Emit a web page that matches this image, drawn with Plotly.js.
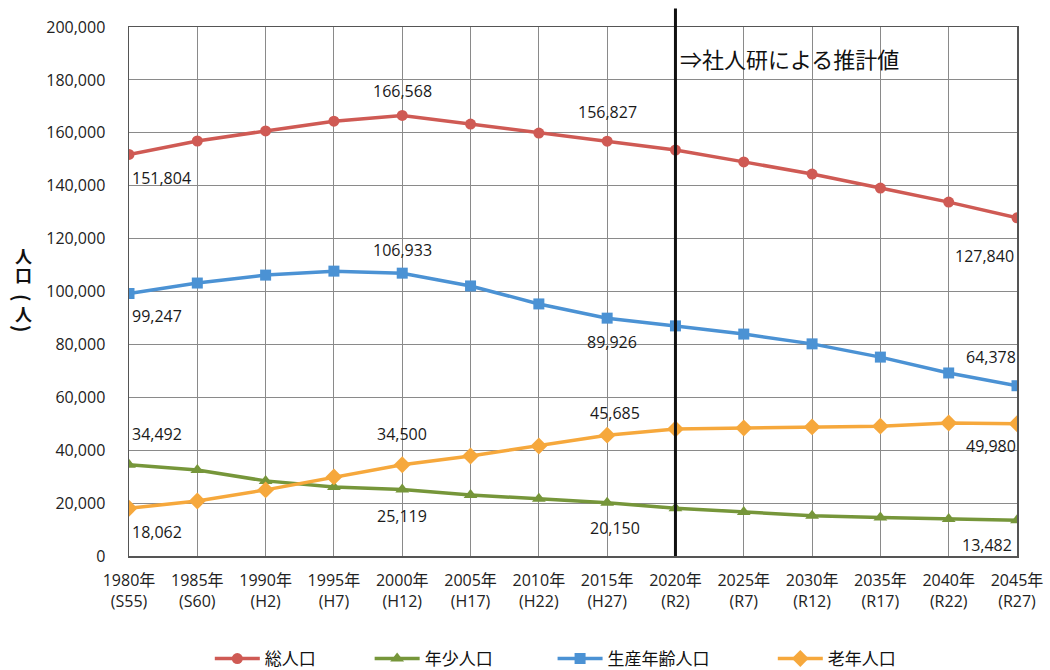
<!DOCTYPE html>
<html>
<head>
<meta charset="utf-8">
<script src="https://cdn.plot.ly/plotly-3.0.1.min.js"></script>
<style>html,body{margin:0;padding:0;background:#fff;}#chart{width:1050px;height:670px;}</style>
</head>
<body>
<div id="chart"></div>
<script>
const years = [1980,1985,1990,1995,2000,2005,2010,2015,2020,2025,2030,2035,2040,2045];
const tickLabels = ["1980年<br>(S55)","1985年<br>(S60)","1990年<br>(H2)","1995年<br>(H7)","2000年<br>(H12)","2005年<br>(H17)","2010年<br>(H22)","2015年<br>(H27)","2020年<br>(R2)","2025年<br>(R7)","2030年<br>(R12)","2035年<br>(R17)","2040年<br>(R22)","2045年<br>(R27)"];
const seriesNames = ["総人口","年少人口","生産年齢人口","老年人口"];
const total      = [151804,156900,160700,164400,166568,163300,159900,156827,153500,149000,144400,139100,133800,127840];
const young      = [34492,32500,28400,26100,25119,23100,21600,20150,18100,16600,15200,14600,14000,13482];
const working    = [99247,103200,106200,107700,106933,102100,95300,89926,87000,83900,80200,75200,69200,64378];
const elderly    = [18062,20800,25000,29900,34500,37800,41600,45685,48000,48400,48800,49100,50300,49980];
const yTickVals  = [0,20000,40000,60000,80000,100000,120000,140000,160000,180000,200000];
const labelIdx   = [0,4,7,13];
const forecastStartYear = years[8];
const yTitleChars = ["人","口","(","人",")"];

const colors = ["#CF5A54","#76963A","#4B92D4","#F6A83C"];
const symbols = ["circle","triangle-up","square","diamond"];
const data = [total, young, working, elderly];
const legendIds = ["legend","legend2","legend3","legend4"];
const legendX = [0.091, 0.271, 0.477, 0.725];

// label placement: [xanchor, yanchor, yshift, xshift]
const place = [
  [["left","top",-11,1],["center","bottom",11,0],["center","bottom",16,0],["right","top",-25,-1]],
  [["left","bottom",18,1],["center","top",-13,0],["center","top",-12,8],["right","top",-12,-3]],
  [["left","top",-10,1],["center","bottom",10,0],["center","top",-11,5],["right","bottom",16,1]],
  [["left","top",-11,1],["center","bottom",18,0],["center","bottom",9,8],["right","top",-9,1]]
];

const traces = data.map((vals,i)=>({
  x: years, y: vals, name: seriesNames[i], type:"scatter", mode:"lines+markers",
  legend: legendIds[i],
  line:{color:colors[i], width:3.5},
  marker:{color:colors[i], size: i===1?12:(i===3?13:11), symbol:symbols[i]},
  hoverinfo:"skip"
}));

const annotations = [];
data.forEach((vals,i)=>{
  labelIdx.forEach((k,j)=>{
    const p = place[i][j];
    annotations.push({x:years[k], y:vals[k], xref:"x", yref:"y", text:vals[k].toLocaleString("en-US"),
      showarrow:false, xanchor:p[0], yanchor:p[1], yshift:p[2], xshift:p[3],
      font:{family:"Open Sans, Noto Sans, sans-serif", size:16, color:"#1a1a1a"}});
  });
});
annotations.push({x:forecastStartYear, y:(556-58)/529, xref:"x", yref:"paper", yanchor:"middle", xanchor:"left",
  xshift:3, text:"⇒社人研による推計値", showarrow:false,
  font:{family:"Noto Sans CJK JP, sans-serif", size:22, color:"#111"}});
// y title: stacked characters, parentheses rotated as in vertical writing
const yTitlePos = [255, 274, 298, 313, 329];
yTitleChars.forEach((c,i)=>{
  const paren = (c==="("||c===")");
  annotations.push({x:0, y:(556 - yTitlePos[i])/529, xref:"paper", yref:"paper", xanchor:"center", yanchor:"middle",
    text:"<b>"+c+"</b>", showarrow:false, xshift:-106, textangle:paren?90:0, borderpad:0,
    font:{family:"Noto Sans CJK JP, sans-serif", size:paren?20:17, color:"#111"}});
});

const legendBase = {orientation:"h", xanchor:"left", yref:"container", y:(670-659)/670, yanchor:"middle",
  font:{family:"Noto Sans CJK JP, sans-serif", size:17, color:"#111"}, itemwidth:45, bgcolor:"rgba(0,0,0,0)"};

const layout = {
  width:1050, height:670,
  margin:{l:129, r:33, t:27, b:114},
  paper_bgcolor:"#fff", plot_bgcolor:"#fff",
  showlegend:true,
  xaxis:{range:[1980,2045], tickvals:years, ticktext:tickLabels, showgrid:true, gridcolor:"#8a8a8a", gridwidth:1,
    zeroline:false, showline:true, linecolor:"#555", linewidth:1.5, mirror:true, ticks:"",
    ticklabelstandoff:9, automargin:false,
    tickfont:{family:"Open Sans, Noto Sans CJK JP, sans-serif", size:16, color:"#222"}, fixedrange:true},
  yaxis:{range:[0,200000], tickvals:yTickVals, tickformat:",", showgrid:true, gridcolor:"#8a8a8a", gridwidth:1,
    zeroline:false, showline:true, linecolor:"#555", linewidth:1.5, mirror:true, ticks:"",
    ticklabelstandoff:19, automargin:false,
    tickfont:{family:"Open Sans, Noto Sans, sans-serif", size:16, color:"#222"}, fixedrange:true},
  shapes:[{type:"line", xref:"x", yref:"paper", x0:forecastStartYear, x1:forecastStartYear, y0:0, y1:1.035,
    line:{color:"#111", width:3}}],
  annotations: annotations
};
legendIds.forEach((id,i)=>{ layout[id] = Object.assign({}, legendBase, {x:legendX[i]}); });

Plotly.newPlot("chart", traces, layout, {displayModeBar:false, staticPlot:true});
</script>
</body>
</html>
